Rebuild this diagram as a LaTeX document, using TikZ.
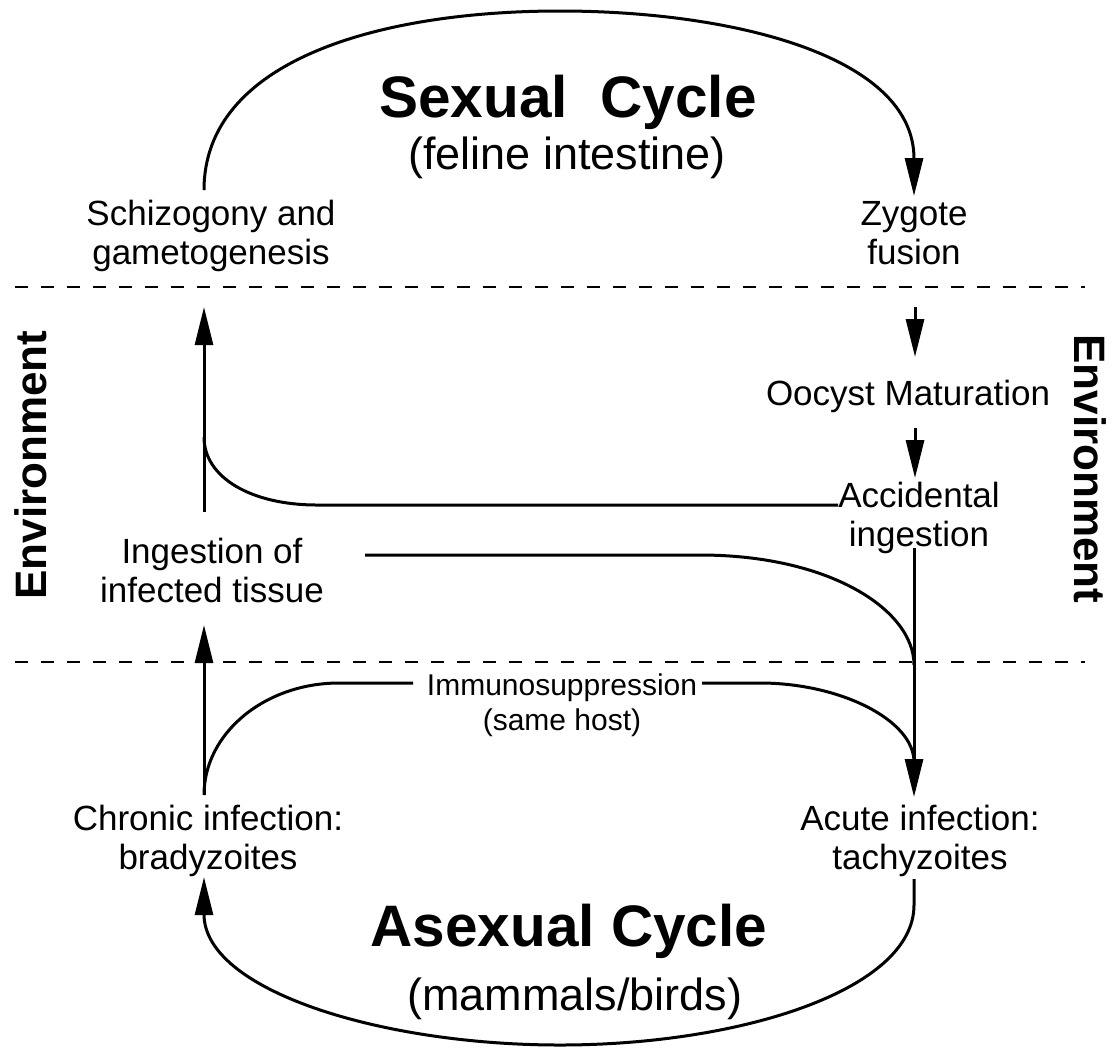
\documentclass[tikz,border=0pt]{standalone}
\usepackage{fontspec}
\setmainfont{Liberation Sans}
\usetikzlibrary{arrows.meta}
\newcommand{\twoline}[2]{\begin{tabular}[t]{@{}c@{}}#1\\#2\end{tabular}}
\begin{document}
\begin{tikzpicture}[x=1pt,y=-1pt,
  lbl/.style={inner sep=0pt, anchor=base, font=\fontsize{35}{39}\selectfont},
  smalllbl/.style={inner sep=0pt, anchor=base, font=\fontsize{30}{35}\selectfont},
  titlelbl/.style={inner sep=0pt, anchor=base, font=\bfseries\fontsize{58.5}{66}\selectfont},
  sublbl/.style={inner sep=0pt, anchor=base, font=\fontsize{45}{52}\selectfont},
  envlbl/.style={inner sep=0pt, anchor=center, font=\bfseries\fontsize{44}{50}\selectfont},
  conn/.style={line width=3pt},
  arr/.style={conn, -{Triangle[length=38pt,width=18pt]}},
  divider/.style={line width=2.8pt, dash pattern=on 13pt off 13pt}]
\useasboundingbox (0,0) rectangle (1115,1053);
% texts
\node[titlelbl] (sexual) at (568,117) {Sexual\ \ Cycle};
\node[sublbl] (feline) at (567,169) {(feline intestine)};
\node[lbl] (schizo) at (211,225) {\twoline{Schizogony and}{gametogenesis}};
\node[lbl] (zygote) at (914,225) {\twoline{Zygote}{fusion}};
\node[lbl] (oocyst) at (908,405) {Oocyst Maturation};
\node[lbl] (accid) at (919,507) {\twoline{Accidental}{ingestion}};
\node[lbl] (ingest) at (212,563) {\twoline{Ingestion of}{infected tissue}};
\node[smalllbl] (immuno) at (562,695) {\twoline{Immunosuppression}{(same host)}};
\node[lbl] (chronic) at (208,830) {\twoline{Chronic infection:}{bradyzoites}};
\node[lbl] (acute) at (920,830) {\twoline{Acute infection:}{tachyzoites}};
\node[titlelbl] (asexual) at (569,946) {Asexual Cycle};
\node[sublbl] (mammals) at (575,1010) {(mammals/birds)};
\node[envlbl, rotate=90] (envL) at (31,465) {Environment};
\node[envlbl, rotate=-90] (envR) at (1090,469) {Environment};
% dividers
\coordinate (d1a) at (15,287); \coordinate (d1b) at (1085,287);
\coordinate (d2a) at (15,662); \coordinate (d2b) at (1085,662);
\draw[divider] (d1a) -- (d1b);
\draw[divider] (d2a) -- (d2b);
% connector end points
\coordinate (schizoTop) at (204,190);
\coordinate (zygoteTop) at (914,196);
\coordinate (zygoteBot) at (915,307);
\coordinate (oocystTop) at (915,357);
\coordinate (oocystBot) at (915,428);
\coordinate (accidTop) at (915,478);
\coordinate (accidLeft) at (838,505);
\coordinate (accidBot) at (914,548);
\coordinate (ingestTop) at (204,512);
\coordinate (schizoBot) at (204,307);
\coordinate (joinUp) at (204,437);
\coordinate (ingestRight) at (365,555);
\coordinate (joinDown) at (914,665);
\coordinate (acuteTop) at (914,797);
\coordinate (acuteJoin) at (914,762);
\coordinate (acuteBot) at (914,879);
\coordinate (chronicTop) at (204,795);
\coordinate (ingestBot) at (204,625);
\coordinate (chronicBot) at (204,877);
\coordinate (immunoLeft) at (413,683);
\coordinate (immunoRight) at (702,683);
% sexual cycle arc
\draw[arr] (schizoTop) .. controls (204,60) and (380,11) .. (560,11)
  .. controls (730,11) and (914,55) .. (zygoteTop);
% environment
\draw[arr] (zygoteBot) -- (oocystTop);
\draw[arr] (oocystBot) -- (accidTop);
\draw[arr] (ingestTop) -- (schizoBot);
\draw[conn] (accidLeft) -- (317,505) .. controls (252,505) and (204,478) .. (joinUp);
\draw[conn] (ingestRight) -- (700,555) .. controls (830,555) and (914,610) .. (joinDown);
\draw[arr] (accidBot) -- (acuteTop);
% asexual cycle
\draw[arr] (chronicTop) -- (ingestBot);
\draw[conn] (immunoLeft) -- (339,683) .. controls (265,683) and (204,733) .. (chronicTop);
\draw[conn] (immunoRight) -- (760,683) .. controls (840,683) and (914,720) .. (acuteJoin);
\draw[arr] (acuteBot) -- (914,905) .. controls (914,990) and (740,1045) .. (560,1045)
  .. controls (380,1045) and (204,990) .. (chronicBot);
\end{tikzpicture}
\end{document}
